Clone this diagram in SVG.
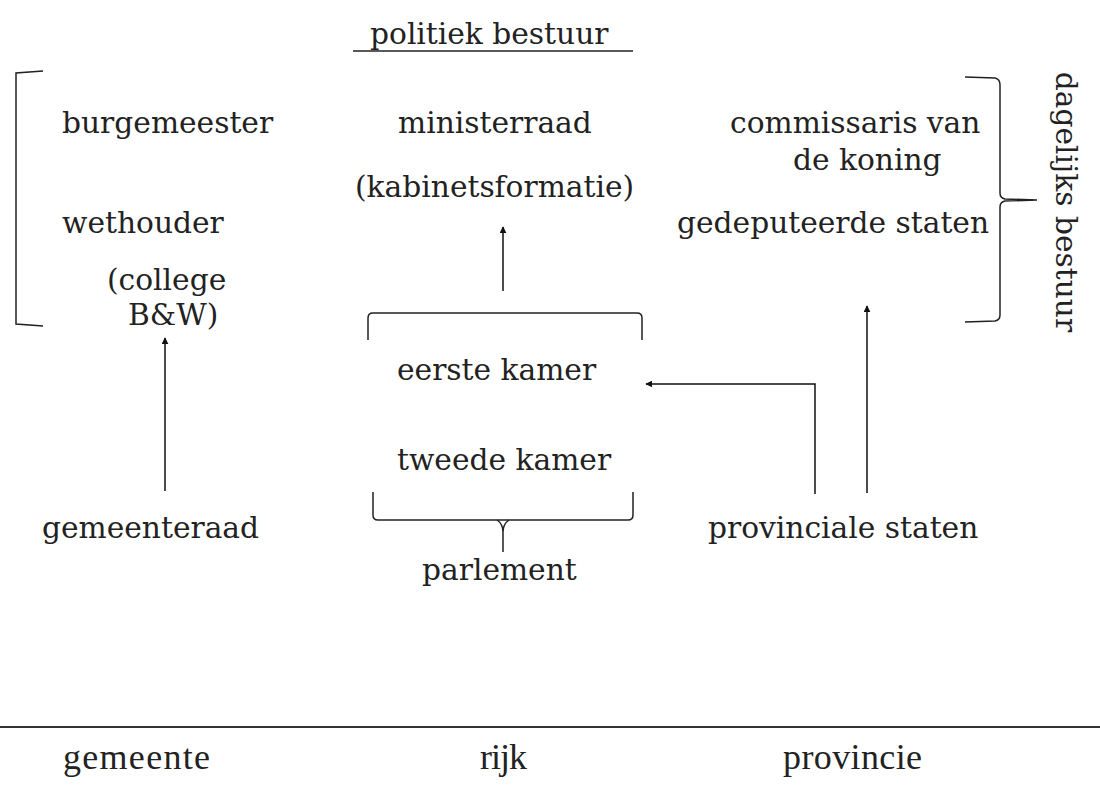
<svg xmlns="http://www.w3.org/2000/svg" width="1100" height="786" viewBox="0 0 1100 786">
<defs>
<marker id="ah" viewBox="0 0 10 10" refX="9" refY="5" markerWidth="7" markerHeight="7" markerUnits="userSpaceOnUse" orient="auto">
<path d="M0,0 L10,5 L0,10 z" fill="#111"/>
</marker>
<style>
text{font-family:"DejaVu Serif","Liberation Serif",serif;font-size:29.7px;fill:#222}
.b{font-family:"Liberation Serif",serif;font-size:36px}
.ln{fill:none;stroke:#222;stroke-width:1.5}
.ar{fill:none;stroke:#111;stroke-width:1.5;marker-end:url(#ah)}
</style>
</defs>
<rect width="1100" height="786" fill="#fff"/>
<g id="title">
<text x="370" y="44">politiek bestuur</text>
<line class="ln" x1="353" y1="51" x2="633" y2="51"/>
</g>
<g id="gemeente-bestuur">
<path class="ln" d="M43,71 L16,73 L16,324 L43,326"/>
<text x="62" y="133">burgemeester</text>
<text x="62" y="233">wethouder</text>
<text x="107" y="290">(college</text>
<text x="128" y="325">B&amp;W)</text>
</g>
<g id="gemeenteraad"><text x="42" y="538">gemeenteraad</text></g>
<g id="ministerraad">
<text x="398" y="133">ministerraad</text>
<text x="355" y="197">(kabinetsformatie)</text>
</g>
<g id="parlement">
<path class="ln" d="M368,340 L368,318 Q368,313 373,313 L637,313 Q642,313 642,318 L642,340"/>
<text x="397" y="380">eerste kamer</text>
<text x="397" y="470">tweede kamer</text>
<path class="ln" d="M373,492 L373,515 Q373,520 378,520 L628,520 Q633,520 633,515 L633,492"/>
<path class="ln" d="M497,520 Q503,524 503,532 L503,552 M509,520 Q503,524 503,532"/>
<text x="422" y="580">parlement</text>
</g>
<g id="provincie-bestuur">
<text x="730" y="133">commissaris van</text>
<text x="793" y="170">de koning</text>
<text x="677" y="233">gedeputeerde staten</text>
<path class="ln" d="M965,77 L995,78 Q1000,79 1000,85 L1000,193 Q1000,198 1005,199 L1037,200 L1005,201 Q1000,202 1000,207 L1000,315 Q1000,320 995,321 L965,322"/>
<text transform="translate(1056,202) rotate(90)" text-anchor="middle">dagelijks bestuur</text>
</g>
<g id="provinciale-staten"><text x="708" y="538">provinciale staten</text></g>
<g id="connectors">
<line class="ar" x1="165" y1="491" x2="165" y2="338"/>
<line class="ar" x1="503" y1="291" x2="503" y2="227"/>
<polyline class="ar" points="815,494 815,384 646,384"/>
<line class="ar" x1="867" y1="493" x2="867" y2="306"/>
</g>
<g id="axis">
<line x1="0" y1="727" x2="1100" y2="727" stroke="#333" stroke-width="2"/>
<text class="b" x="63" y="769" textLength="147">gemeente</text>
<text class="b" x="480" y="769" textLength="47">rijk</text>
<text class="b" x="783" y="769" textLength="139">provincie</text>
</g>
</svg>
